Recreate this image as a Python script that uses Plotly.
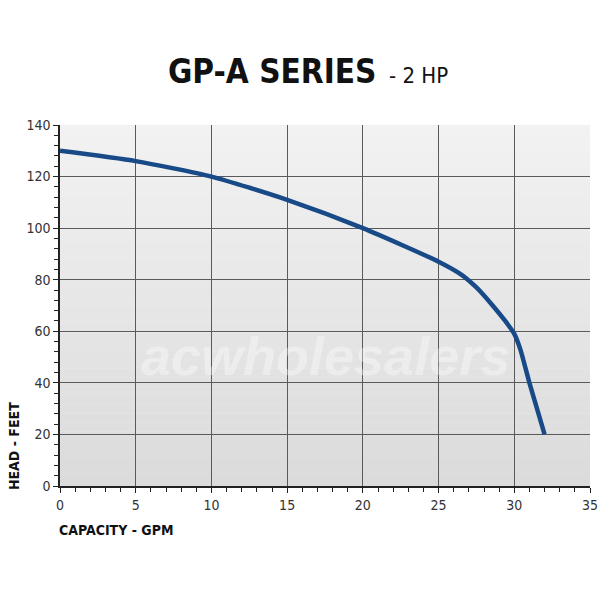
import plotly.graph_objects as go

capacity_gpm = [0, 5, 10, 15, 20, 25, 26.5, 27.5, 28.5, 29.4, 30.0, 30.4, 31.0, 31.5, 32.0]
head_feet = [130, 126, 120, 111, 100, 87, 82, 77, 70.5, 64, 59, 53, 40, 30, 20]

x_ticks = [0, 5, 10, 15, 20, 25, 30, 35]
y_ticks = [0, 20, 40, 60, 80, 100, 120, 140]

FONT = "DejaVu Sans Condensed, sans-serif"

fig = go.Figure()

# gradient background (light at top to light grey at bottom)
n = 40
for i in range(n):
    t = i / (n - 1)
    c = int(round(242 - (242 - 219) * t))
    fig.add_shape(type="rect", xref="x domain", yref="y domain",
                  x0=0, x1=1, y0=1 - (i + 1) / n, y1=1 - i / n,
                  fillcolor=f"rgb({c},{c},{c+1})", line=dict(width=0), layer="below")

fig.add_annotation(text="<b><i>acwholesalers</i></b>", xref="x domain", yref="y domain",
                   x=0.5, y=0.36, showarrow=False,
                   font=dict(family="Liberation Sans, Arial, sans-serif", size=54,
                             color="rgba(255,255,255,0.35)"))

fig.add_trace(go.Scatter(
    x=capacity_gpm, y=head_feet, mode="lines",
    line=dict(color="#174a86", width=4.5, shape="spline", smoothing=0.6),
    hoverinfo="skip", showlegend=False))

fig.update_xaxes(range=[0, 35], tickvals=x_ticks,
                 ticks="outside", ticklen=5,
                 tickcolor="#222", showline=True, linecolor="#222", linewidth=1.5,
                 showgrid=True, gridcolor="#5a5a5a", gridwidth=1, zeroline=False,
                 minor=dict(dtick=1, ticks="outside", ticklen=4, tickcolor="#222", showgrid=False),
                 tickfont=dict(family=FONT, size=14, color="#333"))
fig.update_yaxes(range=[0, 140], tickvals=y_ticks,
                 ticks="outside", ticklen=5,
                 tickcolor="#222", showline=True, linecolor="#222", linewidth=1.5,
                 showgrid=True, gridcolor="#5a5a5a", gridwidth=1, zeroline=False,
                 minor=dict(dtick=4, ticks="outside", ticklen=4, tickcolor="#222", showgrid=False),
                 tickfont=dict(family=FONT, size=14, color="#333"))

fig.add_annotation(text="<b>GP-A SERIES</b><span style='font-size:22px'>  - 2 HP</span>",
                   xref="paper", yref="paper", x=0.468, y=1.147, xanchor="center", yanchor="middle",
                   showarrow=False, font=dict(family=FONT, size=33, color="#111"))
fig.add_annotation(text="<b>CAPACITY - GPM</b>", xref="paper", yref="paper",
                   x=-0.005, y=-0.122, xanchor="left", yanchor="middle", showarrow=False,
                   font=dict(family=FONT, size=14, color="#111"))
fig.add_annotation(text="<b>HEAD - FEET</b>", xref="paper", yref="paper",
                   x=-0.087, y=-0.017, xanchor="center", yanchor="bottom", textangle=-90,
                   showarrow=False, font=dict(family=FONT, size=14, color="#111"))

fig.update_layout(width=600, height=600, margin=dict(l=60, r=10, t=125, b=114, autoexpand=False),
                  paper_bgcolor="white", plot_bgcolor="#eeeeee")

fig.write_html("out.html", config={"displayModeBar": False},
               post_script="document.body.style.margin='0';")
